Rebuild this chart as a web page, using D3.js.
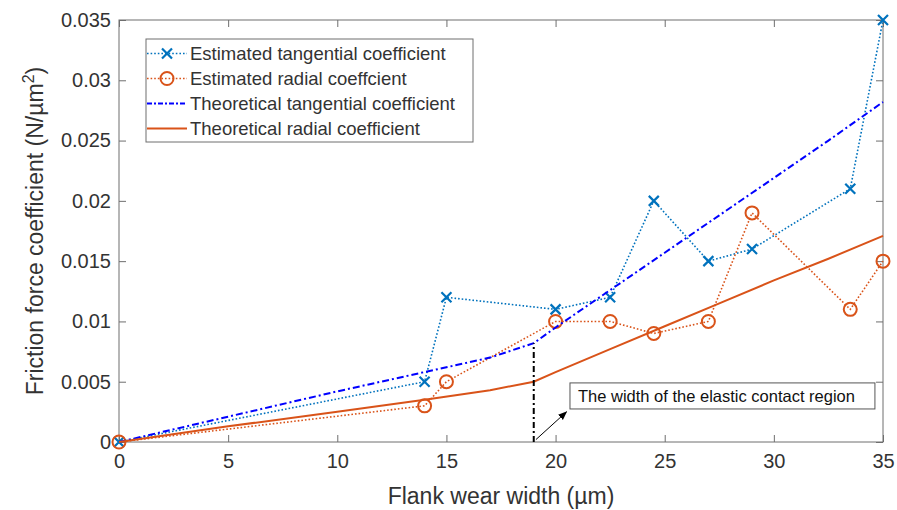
<!DOCTYPE html>
<html>
<head>
<meta charset="utf-8">
<script src="https://cdn.jsdelivr.net/npm/d3@7"></script>
<style>
  body { margin: 0; background: #fff; }
  text { font-family: "Liberation Sans", Arial, sans-serif; }
</style>
</head>
<body>
<svg id="chart" width="897" height="510"></svg>
<script>
// measured points
var estX = [0, 14, 15, 20, 22.5, 24.5, 27, 29, 33.5, 35];
var estTangential = [0, 0.005, 0.012, 0.011, 0.012, 0.02, 0.015, 0.016, 0.021, 0.035];
var estRadial = [0, 0.003, 0.005, 0.01, 0.01, 0.009, 0.01, 0.019, 0.011, 0.015];

// theoretical curves
var theoX = [0, 5, 10, 14, 17, 19, 20, 22.5, 25, 27.5, 30, 32.5, 35];
var theoTangential = [0, 0.0021, 0.0042, 0.0058, 0.007, 0.0082, 0.0095, 0.0126, 0.0157, 0.0188, 0.0219, 0.025, 0.0282];
var theoRadial = [0, 0.0013, 0.0025, 0.0035, 0.0043, 0.005, 0.0058, 0.0077, 0.0096, 0.0115, 0.0134, 0.0152, 0.0171];

var xTicks = [0, 5, 10, 15, 20, 25, 30, 35];
var yTicks = [0, 0.005, 0.01, 0.015, 0.02, 0.025, 0.03, 0.035];
var yTickLabels = ["0", "0.005", "0.01", "0.015", "0.02", "0.025", "0.03", "0.035"];

var seriesNames = ["Estimated tangential coefficient", "Estimated radial coeffcient",
  "Theoretical tangential coefficient", "Theoretical radial coefficient"];

var elasticWidth = 19;
var noteText = "The width of the elastic contact region";

var svg = d3.select("#chart");
var pLeft = 119, pTop = 20, pRight = 883, pBottom = 442;
var axisColor = "#6e6e6e", textColor = "#333";
var blue = "#0072BD", orange = "#D95319", pureBlue = "#0000FF";

var x = d3.scaleLinear().domain([0, 35]).range([pLeft, pRight]);
var y = d3.scaleLinear().domain([0, 0.035]).range([pBottom, pTop]);

// axes (box with inward ticks on all sides)
var ax = svg.append("g");
ax.append("rect")
  .attr("x", pLeft).attr("y", pTop)
  .attr("width", pRight - pLeft).attr("height", pBottom - pTop)
  .attr("fill", "none").attr("stroke", axisColor).attr("stroke-width", 1);

var xAxisB = d3.axisBottom(x).tickValues(xTicks).tickSize(-7).tickPadding(12).tickFormat(d3.format("d"));
var xAxisT = d3.axisTop(x).tickValues(xTicks).tickSize(-7).tickFormat("");
var yAxisL = d3.axisLeft(y).tickValues(yTicks).tickSize(-7).tickPadding(8)
  .tickFormat(function (d, i) { return yTickLabels[i]; });
var yAxisR = d3.axisRight(y).tickValues(yTicks).tickSize(-7).tickFormat("");

[[xAxisB, "translate(0," + pBottom + ")"], [xAxisT, "translate(0," + pTop + ")"],
 [yAxisL, "translate(" + pLeft + ",0)"], [yAxisR, "translate(" + pRight + ",0)"]].forEach(function (a) {
  var g = ax.append("g").attr("transform", a[1]).call(a[0]);
  g.select(".domain").remove();
  g.selectAll("line").attr("stroke", axisColor);
  g.selectAll("text").attr("fill", textColor).style("font-size", "20px")
    .style("font-family", "'Liberation Sans', Arial, sans-serif");
});

// axis labels
svg.append("text")
  .attr("x", (pLeft + pRight) / 2).attr("y", 504)
  .attr("text-anchor", "middle").attr("fill", textColor)
  .style("font-size", "23px")
  .text("Flank wear width (\u00b5m)");

var yl = svg.append("text")
  .attr("transform", "translate(43," + 231 + ") rotate(-90)")
  .attr("text-anchor", "middle").attr("fill", textColor)
  .style("font-size", "23px");
yl.append("tspan").text("Friction force coefficient (N/\u00b5m");
yl.append("tspan").attr("dy", -9).style("font-size", "16px").text("2");
yl.append("tspan").attr("dy", 9).text(")");

// lines
var estLine = function (vals) {
  return d3.line().x(function (d, i) { return x(estX[i]); }).y(function (d) { return y(d); })(vals);
};
var theoLine = function (vals) {
  return d3.line().x(function (d, i) { return x(theoX[i]); }).y(function (d) { return y(d); })(vals);
};

var plot = svg.append("g");
plot.append("path").attr("d", estLine(estTangential))
  .attr("fill", "none").attr("stroke", blue).attr("stroke-width", 1.6).attr("stroke-dasharray", "1.6 2");
plot.append("path").attr("d", estLine(estRadial))
  .attr("fill", "none").attr("stroke", orange).attr("stroke-width", 1.6).attr("stroke-dasharray", "1.6 2");

function crossAt(g, cx, cy, s) {
  g.append("path")
    .attr("d", "M" + (cx - s) + "," + (cy - s) + "L" + (cx + s) + "," + (cy + s) +
      "M" + (cx - s) + "," + (cy + s) + "L" + (cx + s) + "," + (cy - s))
    .attr("stroke", blue).attr("stroke-width", 2.2).attr("fill", "none");
}
function circleAt(g, cx, cy, r) {
  g.append("circle").attr("cx", cx).attr("cy", cy).attr("r", r)
    .attr("fill", "none").attr("stroke", orange).attr("stroke-width", 2);
}

estTangential.forEach(function (d, i) { crossAt(plot, x(estX[i]), y(d), 5); });
estRadial.forEach(function (d, i) { circleAt(plot, x(estX[i]), y(d), 6.5); });

plot.append("path").attr("d", theoLine(theoTangential))
  .attr("fill", "none").attr("stroke", pureBlue).attr("stroke-width", 2).attr("stroke-dasharray", "7 3 2 3");
plot.append("path").attr("d", theoLine(theoRadial))
  .attr("fill", "none").attr("stroke", orange).attr("stroke-width", 2);

// annotation: elastic contact width
var tanAt19 = theoTangential[theoX.indexOf(elasticWidth)];
plot.append("line")
  .attr("x1", x(elasticWidth)).attr("x2", x(elasticWidth))
  .attr("y1", y(0)).attr("y2", y(tanAt19))
  .attr("stroke", "#000").attr("stroke-width", 2).attr("stroke-dasharray", "6 3 2 3");

svg.append("defs").append("marker")
  .attr("id", "arrow").attr("viewBox", "0 0 10 10")
  .attr("refX", 9).attr("refY", 5)
  .attr("markerWidth", 9).attr("markerHeight", 9)
  .attr("markerUnits", "userSpaceOnUse")
  .attr("orient", "auto")
  .append("path").attr("d", "M0,1L10,5L0,9Z").attr("fill", "#000");

plot.append("line")
  .attr("x1", x(19.1)).attr("y1", y(0.0002))
  .attr("x2", x(20.5)).attr("y2", y(0.0025))
  .attr("stroke", "#000").attr("stroke-width", 1)
  .attr("marker-end", "url(#arrow)");

plot.append("rect")
  .attr("x", x(20.66)).attr("y", y(0.0049))
  .attr("width", x(34.63) - x(20.66)).attr("height", y(0.00274) - y(0.0049))
  .attr("fill", "#fff").attr("stroke", "#555").attr("stroke-width", 1);
plot.append("text")
  .attr("x", x(20.66) + 8).attr("y", (y(0.0049) + y(0.00274)) / 2 + 6)
  .attr("fill", "#111").style("font-size", "16.5px")
  .text(noteText);

// legend
var leg = svg.append("g");
leg.append("rect").attr("x", 146).attr("y", 39).attr("width", 327).attr("height", 103)
  .attr("fill", "#fff").attr("stroke", axisColor).attr("stroke-width", 1);
var styles = [
  { color: blue, dash: "1.6 2", w: 1.6, mark: "x" },
  { color: orange, dash: "1.6 2", w: 1.6, mark: "o" },
  { color: pureBlue, dash: "5 2 2 2", w: 2, mark: null },
  { color: orange, dash: null, w: 2, mark: null }
];
seriesNames.forEach(function (name, i) {
  var ly = 53.5 + i * 25;
  leg.append("line").attr("x1", 147).attr("x2", 187).attr("y1", ly).attr("y2", ly)
    .attr("stroke", styles[i].color).attr("stroke-width", styles[i].w)
    .attr("stroke-dasharray", styles[i].dash);
  if (styles[i].mark === "x") crossAt(leg, 167, ly, 5);
  if (styles[i].mark === "o") circleAt(leg, 167, ly, 6.5);
  leg.append("text").attr("x", 190).attr("y", ly + 6.5)
    .attr("fill", textColor).style("font-size", "18.5px").text(name);
});
</script>
</body>
</html>
